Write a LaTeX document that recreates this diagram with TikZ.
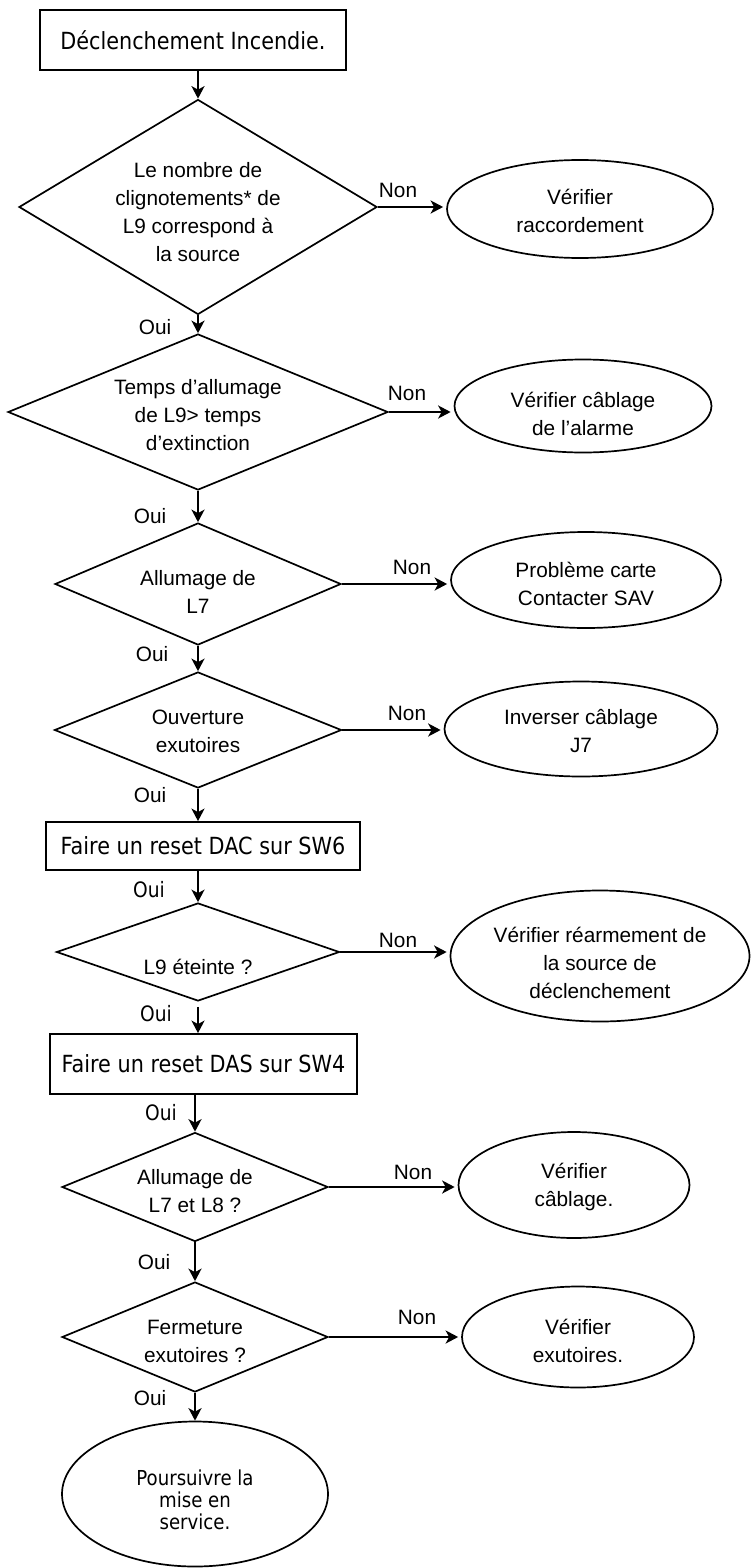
\documentclass[tikz,border=0pt]{standalone}
\usepackage{fontspec}
\setmainfont{Liberation Sans}
\newfontfamily\vfont{DejaVu Sans}[FakeStretch=0.88]
\usetikzlibrary{shapes.geometric,arrows.meta}
\begin{document}
\begin{tikzpicture}[x=1pt,y=-1pt,
  boxnode/.style={draw,line width=1.8pt,inner sep=0pt,font=\vfont\fontsize{23.6}{27}\selectfont},
  dianode/.style={draw,diamond,line width=1.7pt,inner sep=0pt},
  ellnode/.style={draw,ellipse,line width=1.7pt,inner sep=0pt},
  txt/.style={inner sep=0pt,align=center,font=\fontsize{20.8}{28}\selectfont},
  lbl/.style={inner sep=0pt,font=\fontsize{20.8}{24}\selectfont},
  vlbl/.style={inner sep=0pt,font=\vfont\fontsize{21.2}{24}\selectfont},
  arr/.style={-{Stealth[length=12.5pt,width=13pt,inset=3.5pt]},line width=2.2pt}]
\useasboundingbox (0,0) rectangle (751,1568);

% start box
\node[boxnode,minimum width=306pt,minimum height=60pt] (b1) at (193,40) {Déclenchement Incendie.};

% decision 1
\node[dianode,minimum width=358pt,minimum height=215pt] (d1) at (198,207) {};
\node[txt] (d1t) at (198,212) {Le nombre de\\clignotements* de\\L9 correspond à\\la source};
\node[lbl] (n1) at (398,190) {Non};
\node[ellnode,minimum width=266pt,minimum height=98pt] (e1) at (580,209) {};
\node[txt] (e1t) at (580,211) {Vérifier\\raccordement};
\node[lbl] (o1) at (155,327) {Oui};

% decision 2
\node[dianode,minimum width=380pt,minimum height=156pt] (d2) at (198,412) {};
\node[txt] (d2t) at (198,415) {Temps d’allumage\\de L9> temps\\d’extinction};
\node[lbl] (n2) at (407,393) {Non};
\node[ellnode,minimum width=257pt,minimum height=93pt] (e2) at (583,406) {};
\node[txt] (e2t) at (583,414) {Vérifier câblage\\de l’alarme};
\node[lbl] (o2) at (150,516) {Oui};

% decision 3
\node[dianode,minimum width=286pt,minimum height=122pt] (d3) at (198,584) {};
\node[txt] (d3t) at (198,592) {Allumage de\\L7};
\node[lbl] (n3) at (412,567) {Non};
\node[ellnode,minimum width=270pt,minimum height=96pt] (e3) at (586,580) {};
\node[txt] (e3t) at (586,584) {Problème carte\\Contacter SAV};
\node[lbl] (o3) at (152,654) {Oui};

% decision 4
\node[dianode,minimum width=287pt,minimum height=116pt] (d4) at (198,730) {};
\node[txt] (d4t) at (198,731) {Ouverture\\exutoires};
\node[lbl] (n4) at (407,713) {Non};
\node[ellnode,minimum width=273pt,minimum height=95pt] (e4) at (581,729) {};
\node[txt] (e4t) at (581,731) {Inverser câblage\\J7};
\node[lbl] (o4) at (150,795) {Oui};

% reset DAC
\node[boxnode,minimum width=314pt,minimum height=48pt] (dac) at (203,846) {Faire un reset DAC sur SW6};
\node[vlbl] (o5) at (149,890) {Oui};

% decision 6
\node[dianode,minimum width=283pt,minimum height=98pt] (d6) at (198,952) {};
\node[txt] (d6t) at (198,967) {L9 éteinte ?};
\node[lbl] (n6) at (398,940) {Non};
\node[ellnode,minimum width=299pt,minimum height=131pt] (e6) at (600,956) {};
\node[txt] (e6t) at (600,963) {Vérifier réarmement de\\la source de\\déclenchement};
\node[vlbl] (o6) at (156,1014) {Oui};

% reset DAS
\node[boxnode,minimum width=307pt,minimum height=60pt] (das) at (203.5,1064) {Faire un reset DAS sur SW4};
\node[vlbl] (o7) at (161,1113) {Oui};

% decision 7
\node[dianode,minimum width=266pt,minimum height=109pt] (d7) at (195,1187) {};
\node[txt] (d7t) at (195,1191) {Allumage de\\L7 et L8 ?};
\node[lbl] (n7) at (413,1172) {Non};
\node[ellnode,minimum width=231pt,minimum height=106pt] (e7) at (574,1185) {};
\node[txt] (e7t) at (574,1187) {Vérifier\\câblage.};
\node[lbl] (o8) at (154,1262) {Oui};

% decision 8
\node[dianode,minimum width=266pt,minimum height=110pt] (d8) at (195,1337) {};
\node[txt] (d8t) at (195,1341) {Fermeture\\exutoires ?};
\node[lbl] (n8) at (417,1317) {Non};
\node[ellnode,minimum width=232pt,minimum height=101pt] (e8) at (578,1337) {};
\node[txt] (e8t) at (578,1341) {Vérifier\\exutoires.};
\node[lbl] (o9) at (150,1398) {Oui};

% end
\node[ellnode,minimum width=266pt,minimum height=145pt] (e9) at (195,1494) {};
\node[inner sep=0pt,align=center,font=\vfont\fontsize{20.6}{22}\selectfont] (e9t) at (195,1500) {Poursuivre la\\mise en\\service.};

% vertical connectors
\draw[arr] (b1.south -| d1.north) -- (d1.north);
\draw[arr] (d1.south) -- (d2.north);
\draw[arr] (d2.south) -- (d3.north);
\draw[arr] (d3.south) -- (d4.north);
\draw[arr] (d4.south) -- (d4.south |- dac.north);
\draw[arr] (dac.south -| d6.north) -- (d6.north);
\draw[arr] ([yshift=-5pt]d6.south) -- (d6.south |- das.north);
\draw[arr] (das.south -| d7.north) -- (d7.north);
\draw[arr] (d7.south) -- (d8.north);
\draw[arr] (d8.south) -- (e9.north);

% horizontal connectors
\draw[arr,shorten >=3pt] (d1.east) -- (d1.east -| e1.west);
\draw[arr,shorten >=3pt] (d2.east) -- (d2.east -| e2.west);
\draw[arr,shorten >=3pt] (d3.east) -- (d3.east -| e3.west);
\draw[arr,shorten >=3pt] (d4.east) -- (d4.east -| e4.west);
\draw[arr,shorten >=3pt] (d6.east) -- (d6.east -| e6.west);
\draw[arr,shorten >=3pt] (d7.east) -- (d7.east -| e7.west);
\draw[arr,shorten >=3pt] (d8.east) -- (d8.east -| e8.west);
\end{tikzpicture}
\end{document}
